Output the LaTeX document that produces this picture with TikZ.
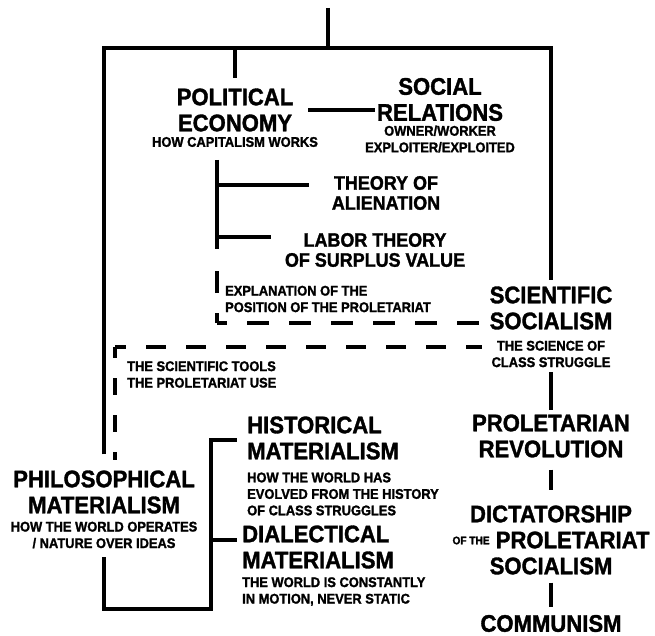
\documentclass[tikz,border=0pt]{standalone}
\usepackage{fontspec}
\setmainfont{Liberation Sans}[FakeStretch=0.92,BoldFeatures={FakeBold=1.5}]
\usepackage{tikz}
\usetikzlibrary{positioning}

\newcommand{\headfont}{\fontsize{24}{26}\selectfont\bfseries}
\newcommand{\midfont}{\fontsize{19.5}{20}\selectfont\bfseries}
\newcommand{\notefont}{\fontsize{14}{16.5}\selectfont\bfseries}
\newcommand{\ofthefont}{\fontsize{11}{12}\selectfont\bfseries}

\begin{document}
\begin{tikzpicture}[x=1pt,y=-1pt,
  head/.style={font=\headfont,align=center,inner sep=0pt},
  mid/.style={font=\midfont,align=center,inner sep=0pt},
  note/.style={font=\notefont,align=center,inner sep=0pt},
  link/.style={line width=3.4pt},
  dashlink/.style={line width=3.4pt,dash pattern=on 22pt off 20pt,dash phase=12pt}]
  \useasboundingbox (0,0) rectangle (655,636);

  % upper branch: political economy
  \node[head] (pe) at (235,110) {POLITICAL\\ECONOMY};
  \node[note] (pe-sub) at (235,142) {HOW CAPITALISM WORKS};
  \node[head] (sr) at (440,99.5) {SOCIAL\\RELATIONS};
  \node[note] (sr-sub) at (440,139) {OWNER/WORKER\\EXPLOITER/EXPLOITED};
  \node[mid] (ta) at (386,193) {THEORY OF\\ALIENATION};
  \node[mid] (lt) at (375,250) {LABOR THEORY\\OF SURPLUS VALUE};
  \node[note,anchor=west,align=left] (expl) at (225,299) {EXPLANATION OF THE\\POSITION OF THE PROLETARIAT};

  % right column
  \node[head] (ss) at (551,308) {SCIENTIFIC\\SOCIALISM};
  \node[note] (ss-sub) at (551,354) {THE SCIENCE OF\\CLASS STRUGGLE};
  \node[head] (pr) at (551,436) {PROLETARIAN\\REVOLUTION};
  \node[head] (dp) at (551,540) {DICTATORSHIP\\\raisebox{4pt}{\ofthefont OF THE} PROLETARIAT\\SOCIALISM};
  \node[head] (cm) at (551,623.5) {COMMUNISM};

  % lower branch: philosophical materialism
  \node[note,anchor=west,align=left] (tools) at (127,374.5) {THE SCIENTIFIC TOOLS\\THE PROLETARIAT USE};
  \node[head] (pm) at (104,492) {PHILOSOPHICAL\\MATERIALISM};
  \node[note] (pm-sub) at (104,535) {HOW THE WORLD OPERATES\\/ NATURE OVER IDEAS};
  \node[head,anchor=west,align=left] (hm) at (247,438) {HISTORICAL\\MATERIALISM};
  \node[note,anchor=west,align=left] (hm-sub) at (247,494) {HOW THE WORLD HAS\\EVOLVED FROM THE HISTORY\\OF CLASS STRUGGLES};
  \node[head,anchor=west,align=left] (dm) at (242,547) {DIALECTICAL\\MATERIALISM};
  \node[note,anchor=west,align=left] (dm-sub) at (242,591.5) {THE WORLD IS CONSTANTLY\\IN MOTION, NEVER STATIC};

  \coordinate (root) at (328,8);
  \coordinate (bar-m) at (328,48);
  \coordinate (bar-l) at (104,48);
  \coordinate (bar-r) at (551,48);
  \coordinate (bar-pe) at (235,48);
  \coordinate (pe-foot) at (217,160);
  \coordinate (lt-knee) at (217,249);
  \coordinate (expl-corner) at (217,323);
  \coordinate (ss-upper) at (480,323);
  \coordinate (ss-lower) at (482,347);
  \coordinate (tools-corner) at (115,347);
  \coordinate (tools-end) at (115,460);
  \coordinate (br-top) at (211,440);
  \coordinate (br-mid) at (211,540);
  \coordinate (br-bot) at (211,609);

  \draw[link] (root) -- (bar-m);
  \draw[link] ([yshift=16pt]pm.north) -- (bar-l) -- (bar-r) -- ([yshift=6pt]ss.north);
  \draw[link] (bar-pe) -- ([yshift=10pt]pe.north);
  \draw[link] ([xshift=15pt]pe.east) -- ([xshift=-2pt]sr.west |- pe.east);
  \draw[link] (pe-foot) -- (lt-knee);
  \draw[link] (pe-foot |- 0,185) -- ([xshift=-23pt]ta.west |- 0,185);
  \draw[link] (pe-foot |- 0,237) -- ([xshift=-14pt]lt.west |- 0,237);
  \draw[dashlink] (expl-corner) -- (217,251);
  \draw[dashlink] (expl-corner) -- (ss-upper);
  \draw[dashlink,dash pattern=on 20pt off 20pt,dash phase=9pt] (tools-corner) -- (ss-lower);
  \draw[dashlink,dash pattern=on 17pt off 20pt,dash phase=6pt] (tools-corner) -- (tools-end);

  \draw[link] ([yshift=-5pt]ss-sub.south) -- ([yshift=4pt]pr.north);
  \draw[link] ([yshift=-12pt]pr.south) -- ([yshift=15pt]dp.north);
  \draw[link] ([yshift=-8pt]dp.south) -- ([yshift=8pt]cm.north);

  \draw[link] ([yshift=-9pt]pm-sub.south) |- (br-bot) -- (br-top) -- ([xshift=-10pt]br-top -| hm.west);
  \draw[link] (br-mid) -- ([xshift=-5pt]br-mid -| dm.west);
\end{tikzpicture}
\end{document}
